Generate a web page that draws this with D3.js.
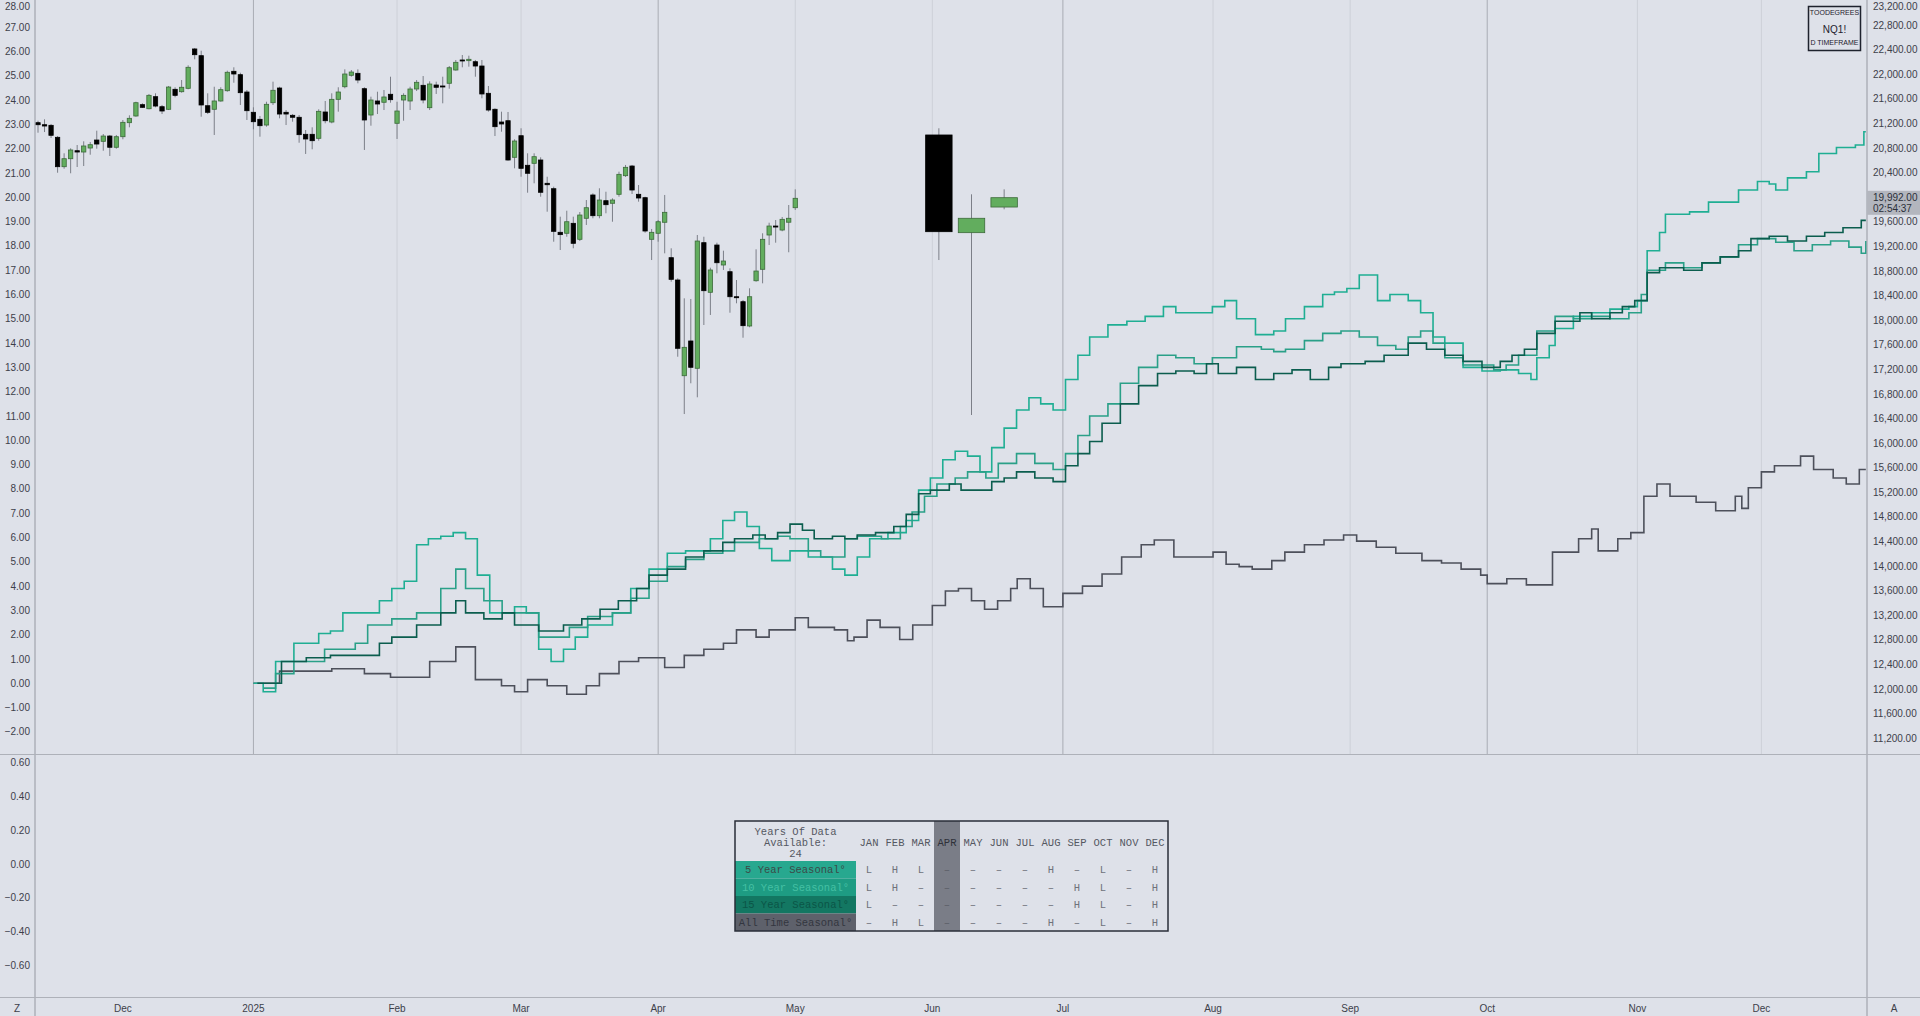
<!DOCTYPE html>
<html><head><meta charset="utf-8">
<script src="https://cdn.jsdelivr.net/npm/d3@7"></script>
<style>html,body{margin:0;padding:0;background:#dee1e9;overflow:hidden}svg{display:block}</style>
</head><body><svg id="c" width="1920" height="1016"></svg>
<script>
// ---------- DATA ----------
// daily NQ1! candles [open, high, low, close], bar index 0 .. 116
const dailyOHLC = [
[21214,21246,21051,21181],[21181,21269,21062,21160],[21171,21193,20965,21009],[20976,20997,20400,20498],
[20498,20716,20465,20628],[20628,20797,20391,20770],[20758,20851,20493,20737],[20737,20911,20509,20835],
[20802,20900,20693,20856],[20932,21084,20791,20867],[20911,21030,20758,20997],[20997,21014,20672,20814],
[20814,21014,20791,20986],[20986,21258,20944,21220],[21214,21334,21139,21285],[21323,21555,21311,21539],
[21507,21529,21453,21464],[21441,21681,21432,21659],[21637,21692,21464,21485],[21474,21502,21355,21404],
[21432,21811,21420,21794],[21757,21790,21627,21659],[21718,21908,21702,21790],[21773,22147,21757,22115],
[22413,22429,22245,22320],[22304,22385,21311,21502],[21490,21692,21355,21383],[21432,21799,21014,21567],
[21567,21790,21555,21751],[21734,22060,21718,22034],[22050,22115,21864,22006],[21995,22027,21502,21702],
[21713,21746,21258,21409],[21383,21464,21106,21230],[21269,21323,20986,21165],[21176,21555,21149,21513],
[21539,21881,21502,21741],[21778,21799,21285,21355],[21383,21420,21176,21355],[21334,21355,21230,21302],
[21302,21339,20888,21019],[21025,21095,20705,20949],[21025,21139,20781,20921],[20960,21432,20921,21399],
[21388,21567,21204,21246],[21225,21692,21204,21594],[21594,21790,21393,21713],[21799,22082,21773,22006],
[21985,22071,21963,22038],[22017,22082,21855,21908],[21767,21790,20770,21258],[21339,21637,21165,21583],
[21567,21718,21355,21518],[21546,21746,21420,21632],[21676,21962,21539,21588],[21204,21555,20949,21404],
[21583,21692,21246,21659],[21567,21799,21420,21762],[21762,21908,21729,21871],[21822,21973,21529,21583],
[21458,21887,21420,21843],[21827,21881,21681,21790],[21811,21962,21529,21795],[21855,22136,21767,22108],
[22071,22234,22061,22196],[22234,22315,22115,22223],[22223,22304,22125,22245],[22206,22234,21962,22136],
[22136,22234,21611,21681],[21692,21811,21393,21420],[21432,21448,20997,21149],[21225,21393,21067,21193],
[21246,21388,20596,20607],[20651,20944,20472,20916],[21002,21123,20335,20472],[20521,20716,20075,20391],
[20553,20716,20228,20661],[20607,20651,20010,20082],[20228,20335,19766,20205],[20140,20173,19278,19447],
[19431,19685,19143,19393],[19415,19782,19359,19603],[19577,19685,19171,19252],[19317,19761,19289,19712],
[19659,19956,19550,19831],[20038,20065,19659,19701],[19701,20147,19659,19956],[19945,20091,19740,19880],
[19903,19984,19603,19956],[20049,20417,20010,20374],[20352,20526,20331,20488],[20509,20526,20054,20119],
[20049,20200,19929,19989],[19994,20010,19424,19452],[19317,19485,18980,19431],[19415,19631,19278,19603],
[19594,20038,19089,19756],[19018,19171,18627,18666],[18655,18683,17407,17544],[17098,18357,16475,17560],
[17663,18346,16975,17235],[17219,19387,16747,19289],[19262,19359,17923,18481],[18455,18855,18086,18818],
[19224,19262,18764,18936],[18899,19132,18818,18964],[18790,18845,18123,18383],[18383,18655,18276,18369],
[18302,18330,17716,17912],[17907,18520,17886,18383],[18643,19154,18627,18801],[18829,19415,18601,19317],
[19387,19587,19224,19533],[19533,19631,19262,19517],[19468,19680,19448,19642],[19595,19875,19106,19659],
[19831,20130,19794,19984]
];
// three wide (weekly-style) candles drawn further right
const wideBarIndex = [138, 143, 148];
const wideOHLC = [[21014,21123,18980,19441],[19425,20049,16459,19659],[19842,20130,19805,19994]];
const lastPriceValue = 19992;
const lastPrice = "19,992.00", countdown = "02:54:37";

// seasonal series, [bar index, % value]
const seasonal5 = [[33,0],[34.5,-0.35],[36.4,0.9],[39.2,1.65],[43,2.05],[44.8,2.15],[46.7,2.9],[50.5,2.9],[52.3,3.4],[54.2,3.9],[56.1,4.2],[58,5.7],[59.8,5.95],[61.7,6.05],[63.6,6.2],[65.5,5.95],[67.3,4.45],[69.2,2.9],[71.1,2.9],[73,3.15],[74.8,2.9],[76.7,1.4],[78.6,0.9],[80.5,1.4],[82.3,1.9],[84.2,2.4],[86.1,2.4],[88,2.9],[90.8,3.9],[93.6,4.7],[96.4,5.35],[99.2,5.45],[101.1,5.45],[103,5.95],[104.9,6.7],[106.7,7.05],[108.6,6.45],[110.5,5.55],[112.4,5.05],[115.2,5.45],[118,5.2],[121.7,4.7],[123.6,4.45],[125.5,5.2],[127.4,5.95],[130.2,6.2],[133,6.7],[134.9,7.95],[136.7,8.45],[138.6,9.2],[140.5,9.55],[142.4,9.35],[144.3,8.7],[146.1,9.7],[148,10.5],[149.9,11.25],[151.8,11.75],[153.6,11.5],[155.5,11.25],[157.4,12.5],[159.3,13.5],[161.1,14.25],[163.9,14.75],[166.8,14.9],[169.6,15.1],[172.4,15.5],[174.3,15.25],[177.1,15.25],[179.9,15.5],[181.8,15.75],[183.6,15.0],[186.5,14.35],[189.3,14.5],[191.1,15.0],[194,15.5],[196.8,16.0],[198.6,16.1],[200.5,16.25],[202.4,16.8],[205.2,15.75],[207.1,16.0],[209.9,15.75],[211.8,15.25],[213.7,14.25],[215.5,14.0],[218.3,13.0],[221.2,12.85],[224,12.9],[226.8,12.75],[228.7,12.5],[229.6,13.4],[231.5,13.9],[232.4,14.6],[235.2,15.1],[238,15.25],[240.8,15.4],[243.7,15.5],[245,15.75],[246.5,17.8],[248.4,18.55],[249.3,19.3],[253,19.4],[255.9,19.8],[258.7,19.8],[260.5,20.3],[263.4,20.65],[265.2,20.55],[266.2,20.3],[268,20.8],[270.9,21.05],[272.8,21.8],[275.5,22.05],[278.4,22.15],[279.7,22.7],[280,22.7]];
const seasonal10 = [[34.5,-0.2],[36.4,0.4],[39.2,0.9],[43.9,1.4],[48.6,1.65],[50.5,2.4],[54.2,2.65],[58,2.9],[61.7,3.9],[64,4.7],[65.5,3.9],[68.3,3.4],[71.1,2.9],[74.8,2.9],[76.7,1.9],[78.6,1.9],[81.4,2.3],[84.2,2.75],[88,2.9],[90.8,3.5],[93.6,4.2],[96.4,4.8],[99.2,5.1],[102,5.35],[104.9,5.45],[106.7,5.8],[110.5,5.95],[113.3,6.05],[115.2,5.95],[118,5.45],[119.9,5.2],[123.6,5.95],[125.5,6.05],[129.2,5.95],[132.1,6.45],[133.9,7.05],[135.8,7.7],[137.7,8.2],[140.5,8.45],[142.4,8.7],[145.2,8.45],[147.1,9.05],[149.9,9.45],[152.7,9.05],[155.5,8.8],[157.4,9.45],[159.3,10.2],[161.1,11.0],[163.9,11.5],[165.8,12.35],[168.6,13.0],[171.5,13.5],[174.3,13.4],[177.1,13.15],[179.9,13.4],[181.8,13.4],[183.6,13.85],[187.4,13.75],[189.3,13.65],[191.1,13.75],[194,14.1],[196.8,14.4],[199.6,14.5],[202.4,14.25],[205.2,13.9],[208,13.75],[209.9,14.25],[211.8,14.5],[213.7,14.0],[215.5,13.4],[218.3,13.1],[221.2,13.1],[223,12.9],[224.9,13.1],[226.8,13.5],[229.6,14.5],[232.4,15.1],[235.2,15.0],[238,15.1],[240.8,15.0],[243.7,15.25],[245.6,16.0],[246.5,17.0],[249.3,17.3],[252.1,17.1],[254.9,17.3],[257.7,17.55],[260.5,18.05],[263.4,18.3],[266.2,18.15],[269,17.8],[271.8,18.05],[274.6,18.2],[277.4,17.95],[279.3,17.7],[280,18.2]];
const seasonal15 = [[33.6,0],[37.3,0.9],[41.1,1.05],[44.8,1.15],[50.5,1.15],[52.3,1.65],[54.2,1.9],[58,2.4],[61.7,2.9],[64,3.4],[65.5,2.9],[68.3,2.65],[71.1,2.9],[73,2.4],[76.7,2.15],[80.5,2.4],[83.3,2.65],[86.1,3.05],[88.9,3.4],[91.7,3.9],[93.6,4.45],[96.4,4.7],[99.2,5.2],[102,5.45],[104.9,5.8],[106.7,5.95],[109.5,6.1],[111.4,5.95],[113.3,6.2],[115.2,6.55],[117.1,6.3],[118.9,5.95],[121.7,6.05],[123.6,5.95],[125.5,6.1],[128.3,6.2],[131.1,6.45],[133,6.95],[134.9,7.8],[136.7,7.95],[139.6,8.2],[141.4,7.95],[144.3,7.95],[146.1,8.3],[148,8.45],[149.9,8.7],[152.7,8.45],[155.5,8.3],[157.4,8.95],[159.3,9.45],[161.1,9.95],[163,10.7],[165.8,11.5],[168.6,12.25],[171.5,12.75],[174.3,12.85],[177.1,12.75],[179,13.15],[180.8,12.75],[183.6,13.0],[186.5,12.5],[189.3,12.75],[192.1,12.9],[194.9,12.5],[197.7,13.0],[199.6,13.15],[203.3,13.25],[206.2,13.5],[209.9,14.0],[212.7,13.75],[215.5,13.5],[218.3,13.25],[221.2,13.0],[224,13.25],[225.8,13.5],[227.7,13.75],[229.6,14.4],[232.4,14.9],[236.2,15.25],[238,15.0],[240.8,15.25],[242.7,15.5],[244.6,15.75],[246.5,16.9],[248.4,17.1],[252.1,17.0],[254.9,17.3],[257.7,17.55],[260.5,17.8],[262.4,18.3],[265.2,18.4],[268,18.2],[270.9,18.4],[273.7,18.55],[276.5,18.75],[279.3,19.05],[280,19.05]];
const seasonalAll = [[33,0],[37,0.5],[45,0.6],[50,0.4],[54,0.25],[60,0.9],[64,1.5],[67,0.15],[71,-0.1],[73,-0.35],[75,0.15],[78,-0.1],[81,-0.45],[84,-0.1],[86,0.4],[89,0.9],[92,1.05],[96,0.65],[99,1.15],[102,1.4],[105,1.65],[107,2.2],[110,1.9],[112,2.2],[116,2.7],[118,2.3],[122,2.2],[124,1.75],[125,1.9],[127,2.6],[129,2.3],[132,1.8],[134,2.4],[137,3.2],[139,3.8],[141,3.9],[143,3.4],[145,3.05],[147,3.4],[149,3.9],[150,4.3],[152,3.9],[154,3.15],[156,3.15],[157,3.7],[160,4.0],[163,4.5],[166,5.2],[169,5.7],[171,5.9],[174,5.2],[177,5.2],[180,5.4],[182,4.9],[184,4.8],[186,4.7],[189,5.05],[191,5.4],[194,5.7],[197,5.9],[200,6.1],[202,5.85],[205,5.6],[208,5.35],[212,5.05],[215,4.95],[218,4.7],[221,4.45],[222,4.1],[225,4.3],[228,4.05],[231,4.05],[232,5.4],[236,5.95],[238,6.35],[239,5.45],[242,5.95],[244,6.2],[246,7.7],[248,8.2],[250,7.7],[254,7.45],[257,7.1],[260,7.7],[261,7.2],[262,8.05],[264,8.7],[266,8.95],[270,9.35],[272,8.8],[275,8.45],[277,8.2],[279,8.8],[280,8.8]];

// axis ticks
const monthLabels = ["Dec","2025","Feb","Mar","Apr","May","Jun","Jul","Aug","Sep","Oct","Nov","Dec"];
const monthIndex  = [13,33,55,74,95,116,137,157,180,201,222,245,264];
const quarterStarts = ["2025","Apr","Jul","Oct"];
const pctTicks = d3.range(-2, 29, 1);
const priceTicks = d3.range(11200, 23201, 400).filter(v => v !== 20000);
const lowerTicks = [-0.6,-0.4,-0.2,0,0.2,0.4,0.6];

// table
const tableMonths = ["JAN","FEB","MAR","APR","MAY","JUN","JUL","AUG","SEP","OCT","NOV","DEC"];
const currentMonth = "APR";
const yearsOfData = 24;
const tableRows = ["5 Year Seasonal°","10 Year Seasonal°","15 Year Seasonal°","All Time Seasonal°"];
const tableMarks = [
 ["L","H","L","–","–","–","–","H","–","L","–","H"],
 ["L","H","–","–","–","–","–","–","H","L","–","H"],
 ["L","–","–","–","–","–","–","–","H","L","–","H"],
 ["–","H","L","–","–","–","–","H","–","L","–","H"]];
const infoLines = ["TOODEGREES","NQ1!","D TIMEFRAME"];

// ---------- STYLE ----------
const BG = "#dee1e9";
const seriesColors = ["#1fae93", "#2aa088", "#0b5d4e", "#4d505b"];
const rowBg = ["#27a88f", "#1e9c83", "#137762", "#5e616b"];
const rowFg = ["#3c4a48", "#45c0a4", "#0b5547", "#33363f"];

const svg = d3.select("#c");
svg.append("rect").attr("width",1920).attr("height",1016).attr("fill",BG);

const plotL = 35, plotR = 1867, mainB = 754.5, lowerB = 997.5;
const x = d3.scaleLinear().domain([0, 280]).range([38, 38 + 280*6.528]);
const yPct = d3.scaleLinear().domain([0, 28]).range([683.3, 683.3 - 28*24.3]);
const yPrice = d3.scaleLinear().domain([11200, 23200]).range([738.3, 738.3 - 30*24.59]);
const yLow = d3.scaleLinear().domain([0, 0.6]).range([864, 864 - 3*33.7]);

const defs = svg.append("defs");
defs.append("clipPath").attr("id","mainclip").append("rect")
  .attr("x",plotL).attr("y",0).attr("width",plotR-plotL).attr("height",mainB);

// month grid lines
const grid = svg.append("g");
monthLabels.forEach((m,i) => {
  if (i === 0) return;
  const q = quarterStarts.includes(m);
  grid.append("line").attr("x1",x(monthIndex[i])).attr("x2",x(monthIndex[i]))
    .attr("y1",0).attr("y2",mainB)
    .attr("stroke", q ? "#a9acb4" : "#cdd0d8").attr("stroke-width",1);
});

// seasonal step lines
const lineGen = d3.line().x(d => x(d[0])).y(d => yPct(d[1])).curve(d3.curveStepAfter);
const lines = svg.append("g").attr("clip-path","url(#mainclip)");
[seasonalAll, seasonal5, seasonal10, seasonal15].forEach((s,k) => {
  const col = [seriesColors[3], seriesColors[0], seriesColors[1], seriesColors[2]][k];
  lines.append("path").attr("d", lineGen(s)).attr("fill","none")
    .attr("stroke", col).attr("stroke-width",1.6).attr("stroke-linejoin","miter");
});

// candles
const cg = svg.append("g").attr("clip-path","url(#mainclip)");
function drawCandle(idx, c, bodyW) {
  const [o,h,l,cl] = c;
  const up = cl >= o;
  const cx = x(idx);
  cg.append("line").attr("x1",cx).attr("x2",cx).attr("y1",yPrice(h)).attr("y2",yPrice(l))
    .attr("stroke","#7c7f88").attr("stroke-width",1);
  const top = yPrice(Math.max(o,cl)), bot = yPrice(Math.min(o,cl));
  cg.append("rect").attr("x",cx-bodyW/2).attr("y",top).attr("width",bodyW)
    .attr("height",Math.max(1,bot-top))
    .attr("fill", up ? "#62ad5e" : "#000000")
    .attr("stroke", up ? "#3c6a3a" : "#000000").attr("stroke-width", 0.8);
}
const bw = x(1) - x(0);
dailyOHLC.forEach((c,i) => drawCandle(i, c, bw*0.66));
wideOHLC.forEach((c,i) => drawCandle(wideBarIndex[i], c, bw*4.05));

// frame lines
svg.append("line").attr("x1",plotL).attr("x2",plotL).attr("y1",0).attr("y2",1016).attr("stroke","#9598a1");
svg.append("line").attr("x1",plotR).attr("x2",plotR).attr("y1",0).attr("y2",1016).attr("stroke","#9598a1");
svg.append("line").attr("x1",0).attr("x2",1920).attr("y1",mainB).attr("y2",mainB).attr("stroke","#aeb1b9");
svg.append("line").attr("x1",0).attr("x2",1920).attr("y1",lowerB).attr("y2",lowerB).attr("stroke","#aeb1b9");

const axisFont = "'Liberation Sans', Arial, sans-serif";
const keepIn = y => Math.max(y, 6);
// left % axis
svg.append("g").selectAll("text").data(pctTicks).join("text")
  .attr("x",30).attr("y",d=>keepIn(yPct(d))).attr("dy","0.35em").attr("text-anchor","end")
  .attr("font-family",axisFont).attr("font-size",10).attr("fill","#3d404a")
  .text(d => d3.format(".2f")(d).replace("-", "−"));
// right price axis
svg.append("g").selectAll("text").data(priceTicks).join("text")
  .attr("x",1873).attr("y",d=>keepIn(yPrice(d))).attr("dy","0.35em").attr("text-anchor","start")
  .attr("font-family",axisFont).attr("font-size",10).attr("fill","#3d404a")
  .text(d => d3.format(",.2f")(d));
// last price label
const lp = yPrice(lastPriceValue);
svg.append("rect").attr("x",plotR).attr("y",lp-7).attr("width",1920-plotR).attr("height",24).attr("fill","#b3b6be");
svg.append("text").attr("x",1873).attr("y",lp).attr("dy","0.35em").attr("font-family",axisFont)
  .attr("font-size",10).attr("fill","#2a2e39").text(lastPrice);
svg.append("text").attr("x",1873).attr("y",lp+11).attr("dy","0.35em").attr("font-family",axisFont)
  .attr("font-size",10).attr("fill","#2a2e39").text(countdown);
// lower pane axis
svg.append("g").selectAll("text").data(lowerTicks).join("text")
  .attr("x",30).attr("y",d=>yLow(d)).attr("dy","0.35em").attr("text-anchor","end")
  .attr("font-family",axisFont).attr("font-size",10).attr("fill","#3d404a")
  .text(d => d3.format(".2f")(d).replace("-", "−"));
// bottom time axis
svg.append("g").selectAll("text").data(monthLabels).join("text")
  .attr("x",(d,i)=>x(monthIndex[i])).attr("y",1008).attr("dy","0.35em").attr("text-anchor","middle")
  .attr("font-family",axisFont).attr("font-size",10).attr("fill","#3d404a").text(d=>d);
svg.append("text").attr("x",17).attr("y",1008).attr("dy","0.35em").attr("text-anchor","middle")
  .attr("font-family",axisFont).attr("font-size",10).attr("fill","#3d404a").text("Z");
svg.append("text").attr("x",1894).attr("y",1008).attr("dy","0.35em").attr("text-anchor","middle")
  .attr("font-family",axisFont).attr("font-size",10).attr("fill","#3d404a").text("A");

// info box
const ib = svg.append("g");
ib.append("rect").attr("x",1808.5).attr("y",6.5).attr("width",52).attr("height",44)
  .attr("fill",BG).attr("stroke","#1e222d").attr("stroke-width",1.5);
ib.append("text").attr("x",1834.5).attr("y",13).attr("dy","0.35em").attr("text-anchor","middle")
  .attr("font-family",axisFont).attr("font-size",7).attr("fill","#1e222d").text(infoLines[0]);
ib.append("text").attr("x",1834.5).attr("y",29).attr("dy","0.35em").attr("text-anchor","middle")
  .attr("font-family",axisFont).attr("font-size",10).attr("fill","#1e222d").text(infoLines[1]);
ib.append("text").attr("x",1834.5).attr("y",43).attr("dy","0.35em").attr("text-anchor","middle")
  .attr("font-family",axisFont).attr("font-size",7).attr("fill","#1e222d").text(infoLines[2]);

// seasonal table
const mono = "'Liberation Mono', 'DejaVu Sans Mono', monospace";
const tx0 = 735, ty0 = 821, labW = 121, colW = 26, headH = 40, rowH = 17.5;
const tW = labW + colW*tableMonths.length, tH = headH + rowH*tableRows.length;
const tg = svg.append("g");
tg.append("rect").attr("x",tx0).attr("y",ty0).attr("width",tW).attr("height",tH).attr("fill",BG);
const ci = tableMonths.indexOf(currentMonth);
tg.append("rect").attr("x",tx0+labW+colW*ci).attr("y",ty0).attr("width",colW).attr("height",tH).attr("fill","#7a7d87");
tableRows.forEach((r,i) => {
  tg.append("rect").attr("x",tx0).attr("y",ty0+headH+rowH*i).attr("width",labW).attr("height",rowH).attr("fill",rowBg[i]);
  tg.append("text").attr("x",tx0+labW/2).attr("y",ty0+headH+rowH*i+rowH/2).attr("dy","0.35em")
    .attr("text-anchor","middle").attr("font-family",mono).attr("font-size",10.5).attr("fill",rowFg[i]).text(r);
  tableMarks[i].forEach((m,j) => {
    tg.append("text").attr("x",tx0+labW+colW*j+colW/2).attr("y",ty0+headH+rowH*i+rowH/2).attr("dy","0.35em")
      .attr("text-anchor","middle").attr("font-family",mono).attr("font-size",10.5)
      .attr("fill", j===ci ? "#5c5f68" : "#6f727b").text(m);
  });
});
["Years Of Data","Available:",String(yearsOfData)].forEach((t,k) => {
  tg.append("text").attr("x",tx0+labW/2).attr("y",ty0+10.7+10.7*k).attr("dy","0.35em")
    .attr("text-anchor","middle").attr("font-family",mono).attr("font-size",10.5).attr("fill","#555862").text(t);
});
tableMonths.forEach((m,j) => {
  tg.append("text").attr("x",tx0+labW+colW*j+colW/2).attr("y",ty0+21).attr("dy","0.35em")
    .attr("text-anchor","middle").attr("font-family",mono).attr("font-size",10.5)
    .attr("fill", j===ci ? "#2e313a" : "#555862").text(m);
});
tg.append("rect").attr("x",tx0).attr("y",ty0).attr("width",tW).attr("height",tH)
  .attr("fill","none").attr("stroke","#2a2e39").attr("stroke-width",1.5);
</script></body></html>
